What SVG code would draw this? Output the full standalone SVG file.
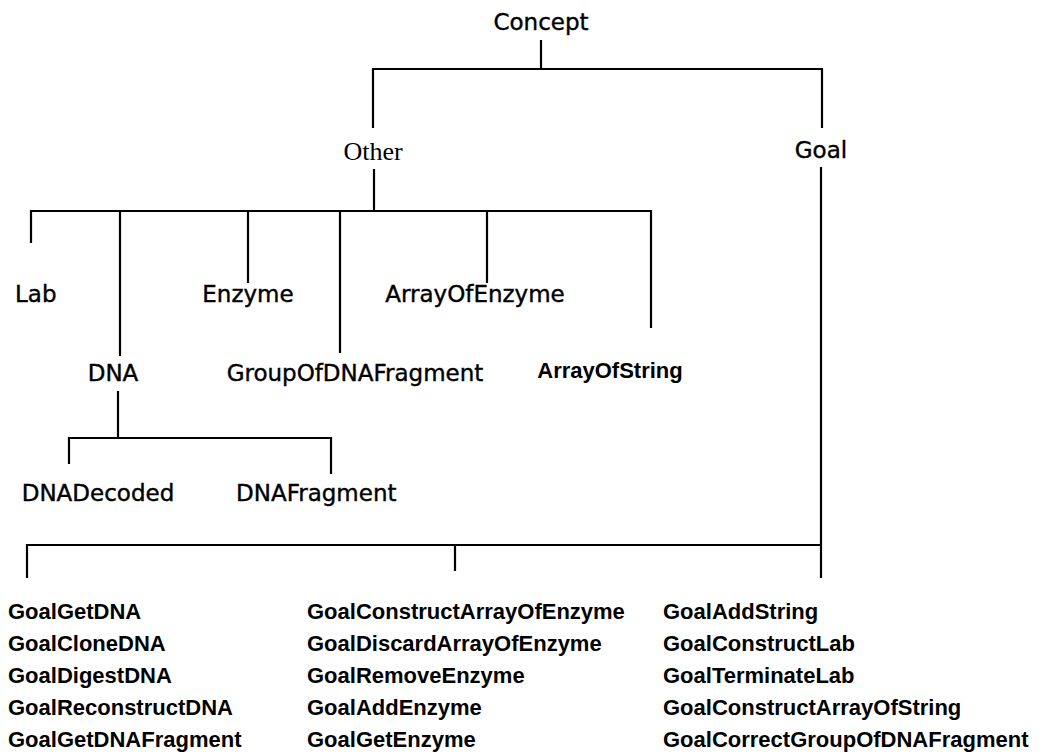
<svg xmlns="http://www.w3.org/2000/svg" width="1044" height="756" viewBox="0 0 1044 756">
<style>
.c{fill:none;stroke:#000;stroke-width:2.2;stroke-linecap:square}
.t{font-family:"DejaVu Sans",Verdana,sans-serif;font-size:23px;fill:#000;stroke:#000;stroke-width:0.4}
.s{font-family:"Liberation Serif","Times New Roman",serif;font-size:26px;fill:#000}
.a{font-family:"Liberation Sans",Arial,sans-serif;font-size:22px;font-weight:bold;fill:#000}
.m{text-anchor:middle}
</style>
<rect width="1044" height="756" fill="#fff"/>
<g id="connectors">
<path class="c" d="M541 41V69M373 69H822M373 69V127M822 69V127"/>
<path class="c" d="M374 170V211M31 211H651M31 211V242M120 211V355M248 211V282M340 211V352M487 211V282M651 211V327"/>
<path class="c" d="M118 392V438M69 438H331M69 438V463M331 438V473"/>
<path class="c" d="M821 168V577M27 545H821M27 545V577M455 545V570"/>
</g>
<g id="concept"><text class="t m" x="541" y="30">Concept</text></g>
<g id="other"><text class="s m" x="373" y="160">Other</text></g>
<g id="goal"><text class="t m" x="821" y="158">Goal</text></g>
<g id="lab"><text class="t" x="15" y="302">Lab</text></g>
<g id="enzyme"><text class="t m" x="248" y="302">Enzyme</text></g>
<g id="arrayofenzyme"><text class="t m" x="475" y="302">ArrayOfEnzyme</text></g>
<g id="dna"><text class="t m" x="113" y="381">DNA</text></g>
<g id="groupofdnafragment"><text class="t m" x="355" y="381">GroupOfDNAFragment</text></g>
<g id="arrayofstring"><text class="a m" x="610" y="378">ArrayOfString</text></g>
<g id="dnadecoded"><text class="t m" x="98" y="501">DNADecoded</text></g>
<g id="dnafragment"><text class="t" x="236" y="501">DNAFragment</text></g>
<g id="goals-1">
<text class="a" x="8" y="619">GoalGetDNA</text>
<text class="a" x="8" y="651">GoalCloneDNA</text>
<text class="a" x="8" y="683">GoalDigestDNA</text>
<text class="a" x="8" y="715">GoalReconstructDNA</text>
<text class="a" x="8" y="747">GoalGetDNAFragment</text>
</g>
<g id="goals-2">
<text class="a" x="307" y="619">GoalConstructArrayOfEnzyme</text>
<text class="a" x="307" y="651">GoalDiscardArrayOfEnzyme</text>
<text class="a" x="307" y="683">GoalRemoveEnzyme</text>
<text class="a" x="307" y="715">GoalAddEnzyme</text>
<text class="a" x="307" y="747">GoalGetEnzyme</text>
</g>
<g id="goals-3">
<text class="a" x="663" y="619">GoalAddString</text>
<text class="a" x="663" y="651">GoalConstructLab</text>
<text class="a" x="663" y="683">GoalTerminateLab</text>
<text class="a" x="663" y="715">GoalConstructArrayOfString</text>
<text class="a" x="663" y="747">GoalCorrectGroupOfDNAFragment</text>
</g>
</svg>
